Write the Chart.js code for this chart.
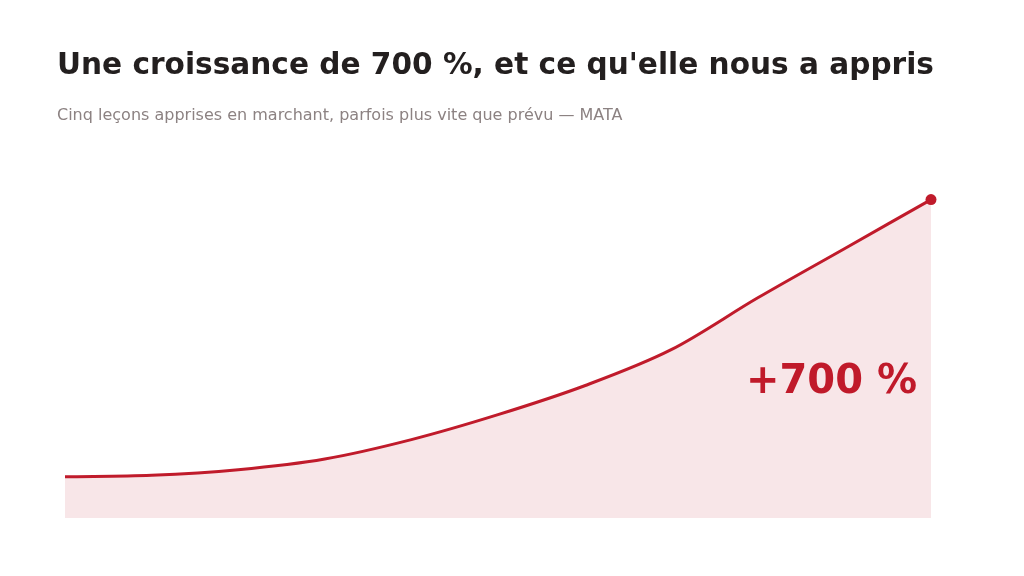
<!DOCTYPE html>
<html>
<head>
<meta charset="utf-8">
<script src="https://cdn.jsdelivr.net/npm/chart.js@4/dist/chart.umd.min.js"></script>
<style>
    html, body { margin: 0; padding: 0; background: #fff; }
    body { width: 1024px; height: 576px; position: relative; overflow: hidden; font-family: "DejaVu Sans", sans-serif; }
    #title { position: absolute; left: 57px; top: 47px; font-size: 29.6px; font-weight: bold; color: #231f1f; white-space: nowrap; }
    #subtitle { position: absolute; left: 57px; top: 105px; font-size: 16px; color: #8c8282; white-space: nowrap; }
    #badge { position: absolute; right: 107px; top: 356px; font-size: 40px; font-weight: bold; color: #c01a2a; white-space: nowrap; }
    #wrap { position: absolute; left: 0; top: 0; width: 1024px; height: 576px; }
</style>
</head>
<body>
<div id="wrap"><canvas id="growthChart"></canvas></div>
<div id="title">Une croissance de 700 %, et ce qu'elle nous a appris</div>
<div id="subtitle">Cinq leçons apprises en marchant, parfois plus vite que prévu — MATA</div>
<div id="badge">+700 %</div>
<script>
// indexed growth, start = 100 -> end = 800 (+700 %)
const periods = ['T0', 'T1', 'T2', 'T3', 'T4', 'T5', 'T6', 'T7', 'T8', 'T9', 'T10'];
const growth = [100, 104, 118, 145, 194, 257, 330, 421, 552, 676, 800];

const RED = '#c01b2b';

const ctx = document.getElementById('growthChart');

new Chart(ctx, {
    type: 'line',
    data: {
        labels: periods,
        datasets: [{
            data: growth,
            borderColor: RED,
            backgroundColor: 'rgba(192, 27, 43, 0.11)',
            borderWidth: 3,
            fill: 'start',
            cubicInterpolationMode: 'monotone',
            // only the last point is marked
            pointRadius: growth.map((v, i) => i === growth.length - 1 ? 5.5 : 0),
            pointBackgroundColor: RED,
            pointBorderWidth: 0,
            clip: false
        }]
    },
    options: {
        responsive: true,
        maintainAspectRatio: false,
        animation: false,
        layout: { padding: { left: 65, right: 93, top: 160, bottom: 58 } },
        plugins: {
            legend: { display: false },
            tooltip: { enabled: false }
        },
        scales: {
            x: { display: false },
            y: { display: false, min: -4, max: 900 }
        }
    }
});
</script>
</body>
</html>
